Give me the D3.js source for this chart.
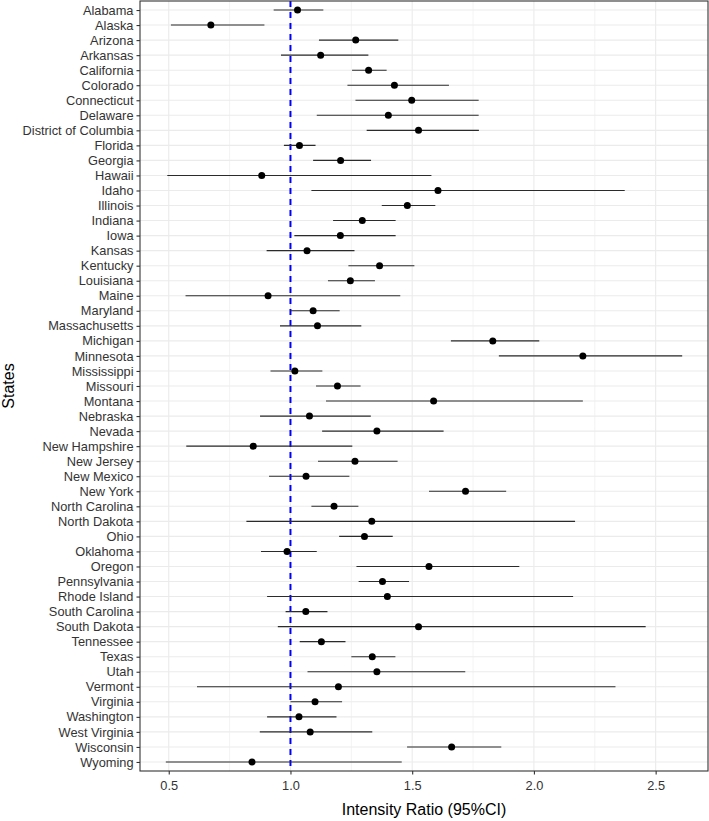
<!DOCTYPE html>
<html>
<head>
<meta charset="utf-8">
<script src="https://cdn.jsdelivr.net/npm/d3@7"></script>
<style>
  body { margin: 0; background: #fff; }
  svg { display: block; font-family: "Liberation Sans", Arial, sans-serif; }
</style>
</head>
<body>
<svg id="chart" width="709" height="821"></svg>
<script>
// state names, top to bottom
const states = ['Alabama', 'Alaska', 'Arizona', 'Arkansas', 'California', 'Colorado',
  'Connecticut', 'Delaware', 'District of Columbia', 'Florida', 'Georgia', 'Hawaii',
  'Idaho', 'Illinois', 'Indiana', 'Iowa', 'Kansas', 'Kentucky', 'Louisiana', 'Maine',
  'Maryland', 'Massachusetts', 'Michigan', 'Minnesota', 'Mississippi', 'Missouri',
  'Montana', 'Nebraska', 'Nevada', 'New Hampshire', 'New Jersey', 'New Mexico',
  'New York', 'North Carolina', 'North Dakota', 'Ohio', 'Oklahoma', 'Oregon',
  'Pennsylvania', 'Rhode Island', 'South Carolina', 'South Dakota', 'Tennessee',
  'Texas', 'Utah', 'Vermont', 'Virginia', 'Washington', 'West Virginia', 'Wisconsin',
  'Wyoming']

// intensity ratio point estimates
const ratio = [1.029, 0.673, 1.268, 1.124, 1.321, 1.427, 1.498, 1.402, 1.526, 1.037,
  1.206, 0.882, 1.606, 1.480, 1.295, 1.205, 1.068, 1.366, 1.246, 0.908, 1.093, 1.111,
  1.831, 2.201, 1.018, 1.193, 1.588, 1.078, 1.355, 0.847, 1.265, 1.064, 1.719, 1.179,
  1.334, 1.304, 0.986, 1.569, 1.378, 1.398, 1.063, 1.526, 1.127, 1.336, 1.355, 1.197,
  1.101, 1.035, 1.081, 1.662, 0.842]

// lower 95% CI
const lower = [0.931, 0.509, 1.117, 0.961, 1.253, 1.234, 1.267, 1.108, 1.313, 0.973,
  1.093, 0.494, 1.086, 1.375, 1.175, 1.016, 0.902, 1.238, 1.154, 0.569, 1.000, 0.957,
  1.659, 1.856, 0.918, 1.105, 1.146, 0.875, 1.130, 0.572, 1.113, 0.912, 1.569, 1.086,
  0.819, 1.200, 0.879, 1.271, 1.280, 0.904, 0.980, 0.948, 1.038, 1.250, 1.070, 0.616,
  1.000, 0.904, 0.874, 1.479, 0.488]

// upper 95% CI
const upper = [1.135, 0.893, 1.443, 1.320, 1.395, 1.651, 1.773, 1.773, 1.774, 1.103,
  1.331, 1.579, 2.373, 1.595, 1.432, 1.432, 1.263, 1.509, 1.347, 1.451, 1.202, 1.291,
  2.022, 2.609, 1.131, 1.288, 2.201, 1.330, 1.629, 1.254, 1.440, 1.242, 1.886, 1.279,
  2.169, 1.420, 1.108, 1.940, 1.487, 2.161, 1.152, 2.459, 1.226, 1.431, 1.718, 2.335,
  1.212, 1.189, 1.336, 1.866, 1.457]

const xTicks = [0.5, 1.0, 1.5, 2.0, 2.5]
const xMinor = [0.75, 1.25, 1.75, 2.25]
const refLine = 1

const rows = states.map((s, i) => ({ state: s, ratio: ratio[i], lo: lower[i], hi: upper[i] }))

const svg = d3.select('#chart')
const m = { left: 140, top: 1, right: 1, bottom: 50 }
const W = +svg.attr('width'), H = +svg.attr('height')

const lo = d3.min(lower), hi = d3.max(upper)
const pad = (hi - lo) * 0.05
const x = d3.scaleLinear().domain([lo - pad, hi + pad]).range([m.left, W - m.right])

// ggplot-like discrete expansion: 0.6 of a step on each end
const n = states.length
const step = (H - m.bottom - m.top) / (n - 1 + 1.2)
const y = d3.scalePoint().domain(states)
  .range([m.top + 0.6 * step, H - m.bottom - 0.6 * step])

const g = svg.append('g')

// grid
g.selectAll('line.minor').data(xMinor).enter().append('line')
  .attr('x1', d => x(d)).attr('x2', d => x(d))
  .attr('y1', m.top).attr('y2', H - m.bottom)
  .attr('stroke', '#ebebeb').attr('stroke-width', 0.6)
g.selectAll('line.vmajor').data(xTicks).enter().append('line')
  .attr('x1', d => x(d)).attr('x2', d => x(d))
  .attr('y1', m.top).attr('y2', H - m.bottom)
  .attr('stroke', '#ebebeb').attr('stroke-width', 1.1)
g.selectAll('line.hmajor').data(states).enter().append('line')
  .attr('x1', m.left).attr('x2', W - m.right)
  .attr('y1', d => y(d)).attr('y2', d => y(d))
  .attr('stroke', '#ebebeb').attr('stroke-width', 1.1)

// reference line
g.append('line')
  .attr('x1', x(refLine)).attr('x2', x(refLine))
  .attr('y1', m.top).attr('y2', H - m.bottom)
  .attr('stroke', '#0000ff').attr('stroke-width', 2)
  .attr('stroke-dasharray', '6,5')

// confidence intervals
g.selectAll('line.ci').data(rows).enter().append('line')
  .attr('x1', d => x(d.lo)).attr('x2', d => x(d.hi))
  .attr('y1', d => y(d.state)).attr('y2', d => y(d.state))
  .attr('stroke', '#2b2b2b').attr('stroke-width', 1.1)

g.selectAll('circle').data(rows).enter().append('circle')
  .attr('cx', d => x(d.ratio)).attr('cy', d => y(d.state))
  .attr('r', 3.5).attr('fill', '#000')

// panel border
g.append('rect')
  .attr('x', m.left).attr('y', m.top)
  .attr('width', W - m.right - m.left).attr('height', H - m.bottom - m.top)
  .attr('fill', 'none').attr('stroke', '#333').attr('stroke-width', 1.1)

// axes
const xAxis = svg.append('g').attr('transform', `translate(0,${H - m.bottom})`)
  .call(d3.axisBottom(x).tickValues(xTicks).tickFormat(d3.format('.1f')).tickSize(3.5).tickPadding(6))
const yAxis = svg.append('g').attr('transform', `translate(${m.left},0)`)
  .call(d3.axisLeft(y).tickSize(3.5).tickPadding(3))

for (const ax of [xAxis, yAxis]) {
  ax.select('.domain').remove()
  ax.selectAll('.tick line').attr('stroke', '#333').attr('stroke-width', 1.1)
  ax.selectAll('.tick text').attr('fill', '#333')
    .style('font-size', '12.8px').style('font-family', '"Liberation Sans", Arial, sans-serif')
}

svg.append('text')
  .attr('x', (m.left + W - m.right) / 2).attr('y', 815)
  .attr('text-anchor', 'middle').style('font-size', '16px')
  .text('Intensity Ratio (95%CI)')

svg.append('text')
  .attr('transform', `translate(14,${(m.top + H - m.bottom) / 2}) rotate(-90)`)
  .attr('text-anchor', 'middle').style('font-size', '16px')
  .text('States')
</script>
</body>
</html>
